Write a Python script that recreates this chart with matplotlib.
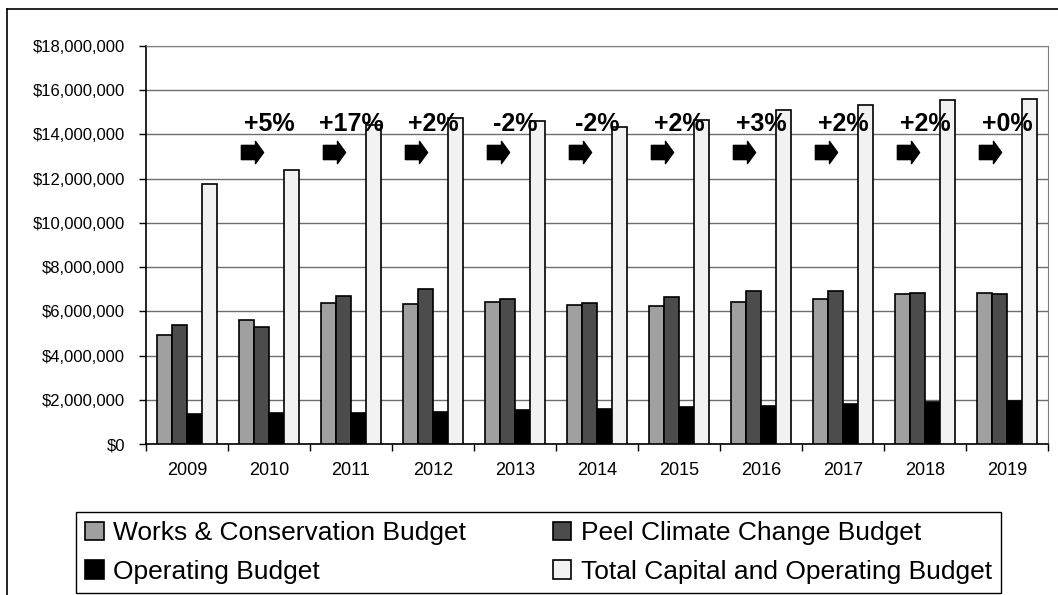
import matplotlib
matplotlib.use('Agg')
import matplotlib.pyplot as plt
import numpy as np
from matplotlib.path import Path
from matplotlib.lines import Line2D

plt.rcParams['font.family'] = ['Liberation Sans', 'DejaVu Sans']

# Budget figures by year
years = ['2009', '2010', '2011', '2012', '2013', '2014',
         '2015', '2016', '2017', '2018', '2019']
works = [4.93e6, 5.61e6, 6.38e6, 6.33e6, 6.42e6, 6.29e6,
         6.24e6, 6.42e6, 6.56e6, 6.78e6, 6.83e6]
peel = [5.38e6, 5.29e6, 6.69e6, 7.01e6, 6.56e6, 6.38e6,
        6.65e6, 6.92e6, 6.92e6, 6.83e6, 6.78e6]
operating = [1.36e6, 1.40e6, 1.42e6, 1.45e6, 1.54e6, 1.58e6,
             1.67e6, 1.72e6, 1.81e6, 1.90e6, 1.94e6]
total = [11.76e6, 12.39e6, 14.43e6, 14.75e6, 14.61e6, 14.34e6,
         14.65e6, 15.10e6, 15.33e6, 15.56e6, 15.60e6]
changes = ['+5%', '+17%', '+2%', '-2%', '-2%', '+2%',
           '+3%', '+2%', '+2%', '+0%']

series = [
    ('Works & Conservation Budget', works, '#a0a0a0'),
    ('Peel Climate Change Budget', peel, '#4c4c4c'),
    ('Operating Budget', operating, '#000000'),
    ('Total Capital and Operating Budget', total, '#f2f2f2'),
]

W, H = 1058, 595
fig = plt.figure(figsize=(W / 100, H / 100), dpi=100)
ax = fig.add_axes([146 / W, (H - 444) / H, (1048 - 146) / W, (444 - 46) / H])

x = np.arange(len(years))
bw = 0.183
handles = {}
for k, (name, vals, col) in enumerate(series):
    bars = ax.bar(x + (k - 1.5) * bw, vals, bw, color=col,
                  edgecolor='black', linewidth=1.2, zorder=3, label=name)
    handles[name] = bars

ax.set_xlim(-0.5, len(years) - 0.5)
ax.set_ylim(0, 18e6)
ax.set_yticks(np.arange(0, 18e6 + 1, 2e6))
ax.set_yticklabels(['${:,.0f}'.format(v) for v in np.arange(0, 18e6 + 1, 2e6)],
                   fontsize=12)
ax.tick_params(axis='y', direction='out', length=5, width=1, pad=10)
ax.yaxis.grid(True, color='#6e6e6e', linewidth=1, zorder=0)

# year labels at centres, tick marks at category boundaries
ax.set_xticks(np.arange(-0.5, len(years), 1))
ax.set_xticklabels([])
ax.set_xticks(x, minor=True)
ax.set_xticklabels(years, minor=True, fontsize=13)
ax.tick_params(axis='x', which='major', direction='out', length=5, width=1)
ax.tick_params(axis='x', which='minor', length=0, pad=13)

for side in ['top', 'right']:
    ax.spines[side].set_color('#7f7f7f')
for side in ['left', 'bottom']:
    ax.spines[side].set_color('black')
    ax.spines[side].set_linewidth(1.2)

# block arrow marker for the change annotations
arrow = Path([(-1, -0.64), (0.27, -0.64), (0.27, -1), (1, 0), (0.27, 1),
              (0.27, 0.64), (-1, 0.64), (-1, -0.64)],
             [Path.MOVETO] + [Path.LINETO] * 6 + [Path.CLOSEPOLY])
for i, txt in enumerate(changes, start=1):
    ax.text(i, 14.16e6, txt, ha='center', va='baseline', fontsize=18,
            fontweight='bold', zorder=5)
    ax.plot(i - 0.21, 13.2e6, marker=arrow, markersize=16, color='black',
            zorder=5)

order = ['Works & Conservation Budget', 'Operating Budget',
         'Peel Climate Change Budget', 'Total Capital and Operating Budget']
leg = fig.legend([handles[n] for n in order], order, ncol=2,
                 loc='lower left', mode='expand', borderaxespad=0,
                 bbox_to_anchor=(76 / W, (H - 593) / H, (1001 - 76) / W, (593 - 511) / H),
                 fontsize=19, handlelength=0.7, handleheight=0.7,
                 handletextpad=0.35, labelspacing=0.55, borderpad=0.35,
                 fancybox=False, framealpha=1, edgecolor='black')
leg.get_frame().set_linewidth(1)

# outer chart border
fig.add_artist(Line2D([7 / W, 7 / W], [0, 1 - 9 / H], color='black', lw=1.2))
fig.add_artist(Line2D([7 / W, 1], [1 - 9 / H, 1 - 9 / H], color='black', lw=1.2))

fig.savefig('out.png', dpi=100)
